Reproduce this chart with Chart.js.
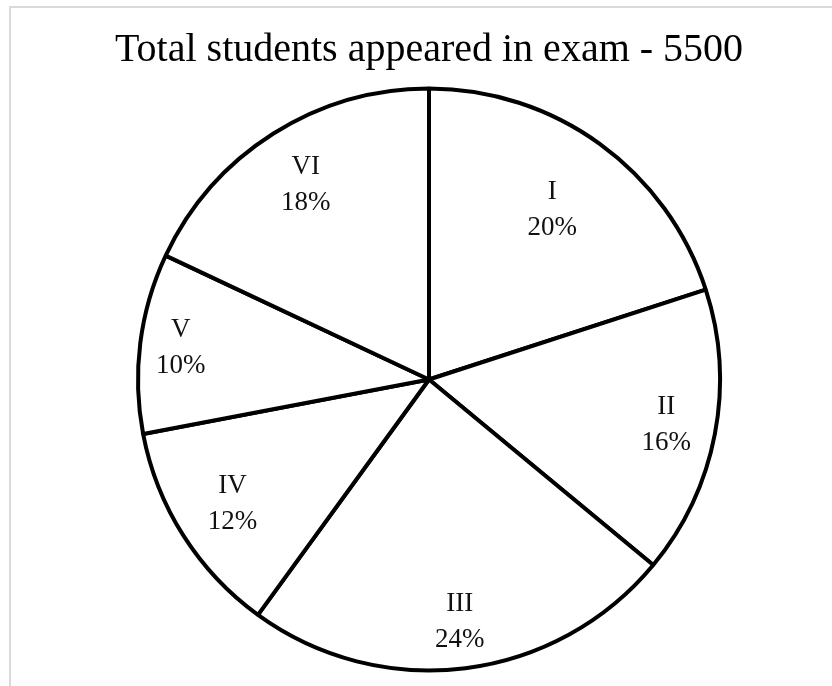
<!DOCTYPE html>
<html>
<head>
<meta charset="utf-8">
<title>Total students appeared in exam - 5500</title>
<script src="https://cdn.jsdelivr.net/npm/chart.js@4.4.0/dist/chart.umd.min.js"></script>
<style>
  html, body { margin: 0; padding: 0; background: #fff; }
</style>
</head>
<body>
<canvas id="myChart" width="832" height="686"></canvas>
<script>
let titleText = 'Total students appeared in exam - 5500';
let classes = ['I', 'II', 'III', 'IV', 'V', 'VI'];
let shares = [20, 16, 24, 12, 10, 18];

// light gray frame of the sheet chart (only left and top edges show)
const frame = {
  id: 'frame',
  beforeDraw(chart) {
    const ctx = chart.ctx;
    ctx.save();
    ctx.strokeStyle = '#d9d9d9';
    ctx.lineWidth = 2;
    ctx.beginPath();
    ctx.moveTo(10, chart.height + 5);
    ctx.lineTo(10, 7);
    ctx.lineTo(chart.width + 5, 7);
    ctx.stroke();
    ctx.restore();
  }
};

// name and percent inside each slice ("best fit" style, so distance varies a bit)
const sliceLabels = {
  id: 'sliceLabels',
  afterDatasetsDraw(chart, args, opts) {
    const ctx = chart.ctx;
    const meta = chart.getDatasetMeta(0);
    const values = chart.data.datasets[0].data;
    ctx.save();
    ctx.font = opts.size + 'px ' + opts.family;
    ctx.fillStyle = opts.color;
    ctx.textAlign = 'center';
    ctx.textBaseline = 'middle';
    meta.data.forEach((arc, i) => {
      const p = arc.getProps(['x', 'y', 'startAngle', 'endAngle', 'outerRadius']);
      const mid = (p.startAngle + p.endAngle) / 2;
      const r = p.outerRadius * opts.radius[i];
      const x = p.x + Math.cos(mid) * r;
      const y = p.y + Math.sin(mid) * r;
      ctx.fillText(chart.data.labels[i], x, y - opts.gap / 2);
      ctx.fillText(values[i] + '%', x, y + opts.gap / 2);
    });
    ctx.restore();
  }
};

var ctx = document.getElementById('myChart').getContext('2d');
var chart = new Chart(ctx, {
  type: 'pie',
  data: {
    labels: classes,
    datasets: [{
      data: shares,
      backgroundColor: '#ffffff',
      borderColor: '#000000',
      borderWidth: 4
    }]
  },
  options: {
    responsive: false,
    devicePixelRatio: 1,
    animation: false,
    events: [],
    layout: { padding: { left: 26, right: 0, top: 0, bottom: 13.5 } },
    plugins: {
      legend: { display: false },
      tooltip: { enabled: false },
      title: {
        display: true,
        text: titleText,
        color: '#000000',
        font: { family: "'Liberation Serif', serif", size: 40, weight: 'normal', lineHeight: 1.2 },
        padding: { top: 26, bottom: 12.5 }
      },
      sliceLabels: {
        family: "'Liberation Serif', serif",
        size: 27,
        color: '#111111',
        radius: [0.72, 0.83, 0.84, 0.8, 0.86, 0.79],
        gap: 36
      }
    }
  },
  plugins: [frame, sliceLabels]
});
</script>
</body>
</html>
